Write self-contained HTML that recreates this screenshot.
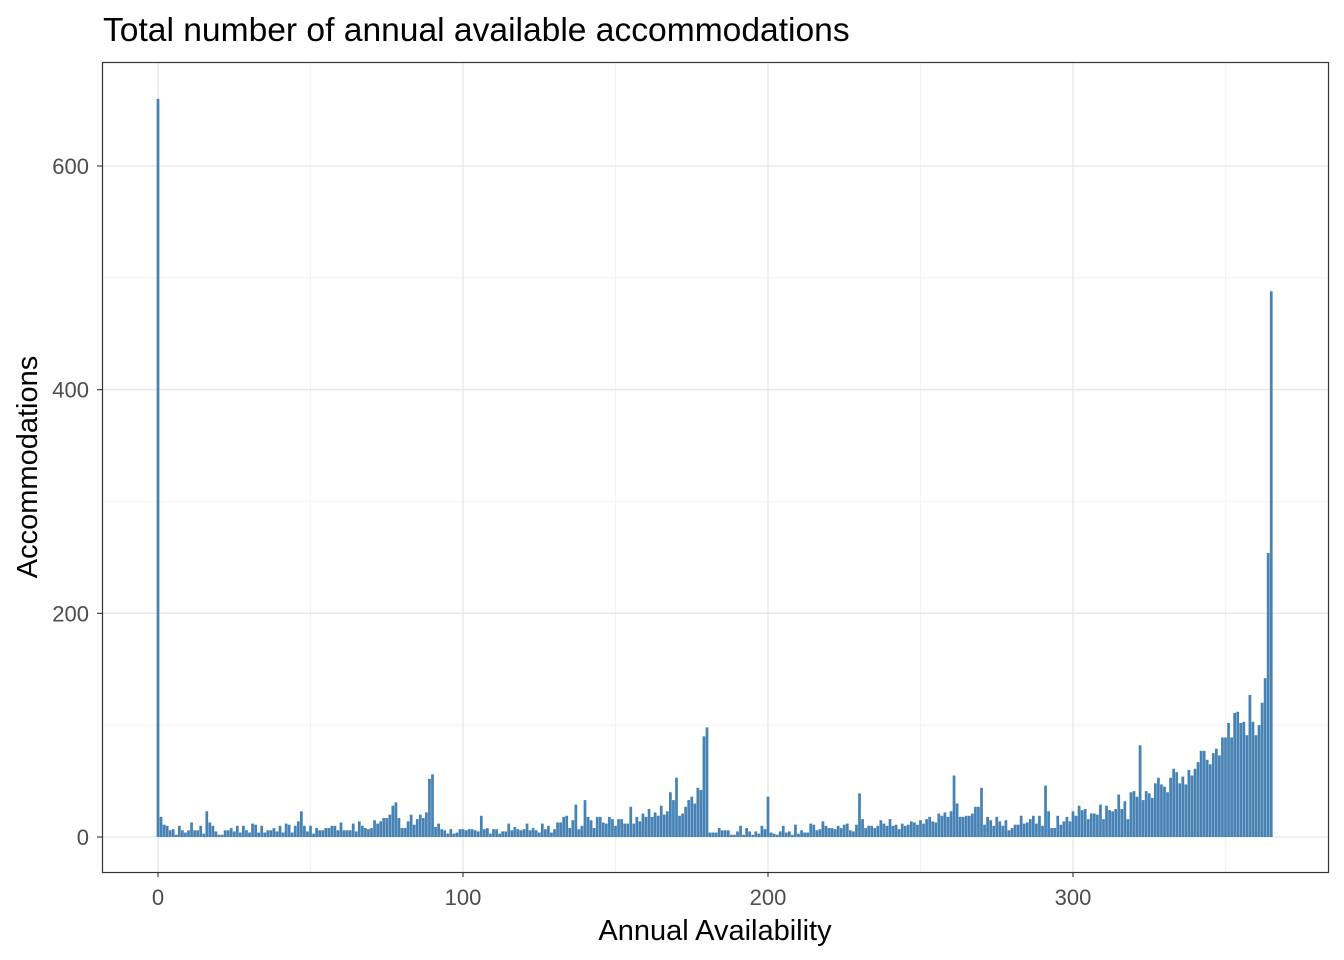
<!DOCTYPE html>
<html><head><meta charset="utf-8"><style>
body{margin:0;background:#fff;}
svg{display:block;font-family:"Liberation Sans",sans-serif;}
</style></head><body>
<svg id="chart" width="1344" height="960">
<text x="103" y="41" font-size="33.6" fill="#000">Total number of annual available accommodations</text>
<g id="grid"></g>
<g id="bars"></g>
<rect x="102.5" y="62.5" width="1226" height="810" fill="none" stroke="#333" stroke-width="1.2"/>
<g id="axes"></g>
<text x="715" y="940" font-size="29" text-anchor="middle" fill="#000">Annual Availability</text>
<text transform="translate(37,467) rotate(-90)" font-size="29" text-anchor="middle" fill="#000">Accommodations</text>
</svg>
<script>
const seg0=[660,18,11,10,6,7,2,10,6,4,6,13,6,6,10,3,23,13,10,5,2,2,6,6,8,5,10,4,10,6,4,12,11,4,10,4,6,6,8,5,10,4,12,11,4,10,14,23,10,5,10,3,8,6,6,8,8,10,10,6,13,6,6,6,12];
const seg1=[5,14,10,8,7,8,15,12,14,17,17,20,28,31,17,8,8,14,20,11,16,20,17,22,52,56,9,12,7,6,3,7,3,4,7,7,6,7,7,6,5,19,7,8,3,7,7,3,5,5,12,6,9,7,6,7,12,6,8,6,4,12,7,10,4,7,13];
const seg2=[13,18,19,8,15,29,7,10,33,18,15,8,18,18,13,12,18,16,10,16,16,12,12,27,12,18,14,21,18,25,18,22,19,28,20,23,40,33,53,19,21,27,33,36,30,44,42,90,98,4,4,4,8,6,6,6,2,2,5,10,2,8,5,2,5,3,10];
const seg3=[7,36,4,3,2,5,10,4,5,2,11,3,6,4,4,12,11,6,7,14,10,8,8,7,10,8,11,12,6,5,11,39,16,8,10,10,8,10,15,12,10,16,10,11,7,12,10,11,14,13,11,15,12,16,18,14,13,21,19,22,18,23,55,30,18,18,19];
const seg4=[19,21,27,27,44,11,18,15,10,18,14,10,15,6,8,11,11,19,12,13,16,19,12,19,10,46,23,8,8,19,11,14,18,14,23,19,28,24,25,16,21,21,20,29,16,28,24,23,25,38,25,32,16,40,41,36,82,33,41,39,35,48,53,47,45,40];
const seg5=[53,61,58,48,54,47,60,55,61,67,77,77,69,65,75,79,73,89,89,102,89,111,112,102,103,91,127,103,91,100,120,142,254,488];
const counts=seg0.concat(seg1,seg2,seg3,seg4,seg5);
const xTicks=[0,100,200,300];
const yTicks=[0,200,400,600];
const X0=158,XS=3.05,Y0=837,YS=671/600;
const xs=v=>X0+v*XS, ys=v=>Y0-v*YS;
const NS="http://www.w3.org/2000/svg";
function mk(tag,attrs,parent){const e=document.createElementNS(NS,tag);for(const k in attrs)e.setAttribute(k,attrs[k]);parent.appendChild(e);return e;}
const grid=document.getElementById('grid'),bars=document.getElementById('bars'),axes=document.getElementById('axes');
mk('rect',{x:102,y:62,width:1226,height:810,fill:'#fff'},grid);
[50,150,250,350].forEach(v=>{const l=mk('line',{x1:xs(v),x2:xs(v),y1:62,y2:872,stroke:'#f0f0f0','stroke-width':0.8},grid);

});
[100,300,500].forEach(v=>{const l=mk('line',{x1:102,x2:1328,y1:ys(v),y2:ys(v),stroke:'#f0f0f0','stroke-width':0.8},grid);

});
xTicks.forEach(v=>{const l=mk('line',{x1:xs(v),x2:xs(v),y1:62,y2:872,stroke:'#e6e6e6','stroke-width':1.3},grid);


const t=mk('line',{x1:xs(v),x2:xs(v),y1:872,y2:877,stroke:'#333','stroke-width':1.1},axes);


const tx=mk('text',{x:xs(v),y:905,'font-size':22,'text-anchor':'middle',fill:'#4d4d4d'},axes);tx.textContent=v;

});
yTicks.forEach(v=>{const l=mk('line',{x1:102,x2:1328,y1:ys(v),y2:ys(v),stroke:'#e6e6e6','stroke-width':1.3},grid);


const t=mk('line',{x1:97,x2:102,y1:ys(v),y2:ys(v),stroke:'#333','stroke-width':1.1},axes);


const tx=mk('text',{x:89,y:ys(v)+8,'font-size':22,'text-anchor':'end',fill:'#4d4d4d'},axes);tx.textContent=v;

});
counts.forEach((c,i)=>{const w=XS*0.9;const r=mk('rect',{x:xs(i)-w/2,y:ys(c),width:w,height:Y0-ys(c),fill:'#4682b4'},bars);

});
</script>
</body></html>
